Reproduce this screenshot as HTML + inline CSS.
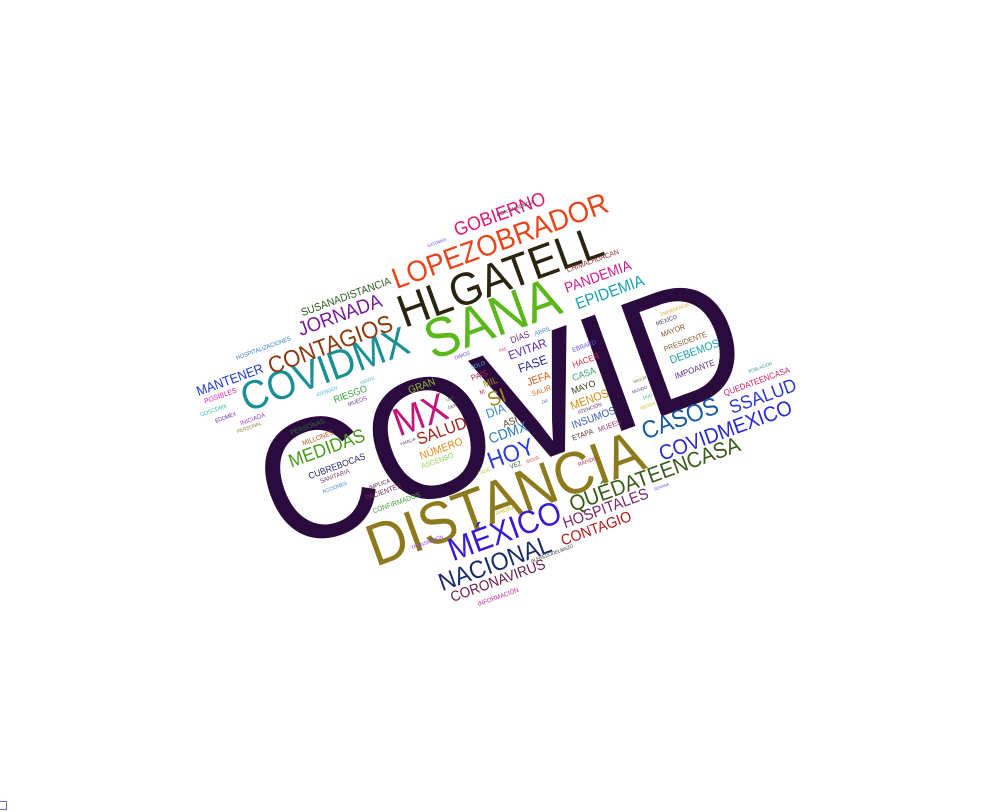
<!DOCTYPE html>
<html><head><meta charset="utf-8">
<style>
html,body{margin:0;padding:0;background:#fff;}
#cloud{position:relative;width:1000px;height:812px;overflow:hidden;background:#fff;}
.w{position:absolute;left:0;top:0;white-space:nowrap;font-family:"Liberation Sans",Arial,sans-serif;line-height:1;transform-origin:50% 50%;}
#corner{position:absolute;left:0;top:801px;width:7px;height:9px;border:1px solid #6a6ad0;border-left:none;box-sizing:border-box;}
</style></head>
<body>
<div id="cloud">
<div id="corner"></div>
</div>
<script>
const words=[
["COVID",500,422,505,150,"#2b0b3d"],
["DISTANCIA",505,502,290,58,"#8c7a1c"],
["SANA",492,322,140,52,"#5cb81a"],
["HLGATELL",500,280,215,38,"#2a2410"],
["LOPEZOBRADOR",500,242,228,24,"#e8461a"],
["GOBIERNO",500,216,96,16,"#e0186e"],
["COVIDMX",325,372,176,32,"#1a9096"],
["CONTAGIOS",330,346,131,20,"#8b3a10"],
["JORNADA",340,316,88,16,"#7a1a9a"],
["SUSANADISTANCIA",346,299,95,9,"#2a5a1a"],
["MANTENER",230,381,70,11,"#1a3ad0"],
["HOSPITALIZACIONES",264,350,58,5,"#3a7ac8"],
["POSIBLES",221,398,34,6,"#e020c0"],
["GOSCDMX",214,412,28,5,"#30c0b0"],
["EDOMEX",226,419,22,4,"#5a1aa0"],
["INICIADA",253,420,26,5,"#a040c0"],
["PERSONAL",250,430,26,4,"#8a7a3a"],
["ATENDEN",327,393,22,4,"#4ab0e0"],
["GENTE",367,381,15,4,"#4ab0c0"],
["RIESGO",350,395,35,9,"#3aa040"],
["MUEOS",358,403,20,4,"#6a3aa0"],
["GRAN",422,388,28,9,"#8ac030"],
["MX",420,418,55,28,"#c0187a"],
["USO",450,399,9,3,"#5a5a5a"],
["DER",452,407,9,3,"#5a5a5a"],
["SALUD",442,433,52,13,"#a0201a"],
["FAMILIA",408,442,16,3,"#6a4a8a"],
["NÚMERO",441,451,45,9,"#e08a1a"],
["ASCENSO",438,463,34,6,"#8ad040"],
["PERSONAS",308,428,36,6,"#2a6a3a"],
["MILLONES",318,440,33,6,"#c05a2a"],
["MEDIDAS",327,450,80,20,"#4a9a1a"],
["CUBREBOCAS",337,467,60,9,"#2a2a6a"],
["SANITARIA",335,478,31,5,"#7a3a6a"],
["ACCIONES",335,489,26,4,"#3a8ad0"],
["IMPLICA",380,486,22,4,"#5a2a5a"],
["PACIENTES",384,494,38,6,"#6a2a4a"],
["CONFIRMADOS",397,505,50,6,"#4aa040"],
["HOY",511,455,48,24,"#2a3ae0"],
["CDMX",508,434,40,11,"#2a7ac0"],
["DÍA",496,413,20,10,"#3a8ad0"],
["ASÍ",510,423,15,7,"#5a3a1a"],
["SI",497,400,18,14,"#a08a1a"],
["MIL",490,383,15,8,"#a08a1a"],
["M",482,393,5,5,"#c0304a"],
["PAÍS",479,376,17,6,"#b02a4a"],
["SOLO",478,367,15,4,"#4ab0e0"],
["DIMOS",463,358,16,4,"#6a4ae0"],
["PAE",503,350,8,3,"#e04a8a"],
["DÍAS",520,338,20,7,"#6a2a7a"],
["ABRIL",543,333,17,4,"#4a8ad0"],
["EVITAR",528,351,40,10,"#5a2ab0"],
["FASE",533,366,30,10,"#2a2a90"],
["JEFA",539,381,24,8,"#d05a1a"],
["SALIR",542,393,20,6,"#e0702a"],
["DR",545,402,6,3,"#4a6ad0"],
["EBRARD",584,347,25,5,"#5a5ae0"],
["HACER",586,361,28,7,"#c0304a"],
["CASA",584,375,24,7,"#3aa070"],
["MAYO",583,388,25,7,"#3a3a1a"],
["MENOS",590,401,40,9,"#d08a1a"],
["ATENCIÓN",590,411,25,4,"#5a3a6a"],
["INSUMOS",594,420,46,9,"#3a5ab0"],
["ETAPA",583,436,22,6,"#5a3a2a"],
["MUEES",610,428,24,6,"#a03a6a"],
["SEGUR",640,380,14,3,"#8a6a3a"],
["MUNDO",640,390,16,3,"#6a3a8a"],
["DUO",648,398,10,4,"#4ab07a"],
["MEDIDA",648,406,16,3,"#e0b02a"],
["EMERGENCIA",675,310,30,3,"#e0a02a"],
["MEXICO",667,322,22,4,"#3a3a6a"],
["MAYOR",673,333,25,5,"#8a4a1a"],
["PRESIDENTE",685,343,45,6,"#8a5a2a"],
["DEBEMOS",695,354,52,10,"#1aa0b0"],
["IMPOANTE",695,370,42,7,"#5a2a8a"],
["POBLACIÓN",760,368,25,3,"#2a9a8a"],
["QUEDATEENCASA",757,382,70,7,"#d01a6a"],
["SSALUD",763,398,70,14,"#2a3ad0"],
["CASOS",680,420,80,20,"#1a5aa0"],
["COVIDMEXICO",726,433,140,17,"#2a2ad0"],
["QUÉDATEENCASA",655,476,180,15,"#3a5a1a"],
["SEMANA",662,488,16,3,"#6a4ae0"],
["RÁPIDO",588,463,20,4,"#c0304a"],
["SIGUE",533,461,14,4,"#c04a3a"],
["VEZ",516,466,12,5,"#3a5a2a"],
["CADA",484,472,12,3,"#c0c02a"],
["HOSPITALES",606,510,90,12,"#7a2a6a"],
["CONTAGIO",596,529,74,11,"#b01a1a"],
["MÉXICO",505,534,118,26,"#3a1ad0"],
["NACIONAL",495,565,118,19,"#1a2a6a"],
["CORONAVIRUS",498,582,100,12,"#6a1a4a"],
["INFORMACIÓN",498,598,43,4,"#c02a9a"],
["ALFREDODELMAZO",552,555,45,3,"#3a3a3a"],
["TRANSMISIÓN",428,545,34,3,"#8a4ae0"],
["AHORA",506,512,20,4,"#c0c02a"],
["PANDEMIA",598,278,70,10,"#d01a8a"],
["EPIDEMIA",610,293,72,10,"#1aa0b0"],
["CHIMALHUACAN",593,263,55,6,"#8a2a2a"],
["CONTINGENCIA",516,210,40,4,"#5a2a5a"],
["GATOMAS",437,243,20,3,"#5a5ae0"]
];
const cloud=document.getElementById('cloud');
words.forEach(function(w){
  const el=document.createElement('span');
  el.className='w';
  el.textContent=w[0];
  
  
  el.style.fontSize='100px';
  el.style.color=w[5];
  cloud.appendChild(el);
  const fs=100*w[3]/el.offsetWidth;
  el.style.fontSize=fs+'px';
  const mw=el.offsetWidth, mh=el.offsetHeight;
  el.style.left=(w[1]-mw/2)+'px';
  el.style.top=(w[2]-mh*0.56)+'px';
  el.style.transform='rotate(-20deg) scaleY(1.08)';
});
</script>
</body></html>
